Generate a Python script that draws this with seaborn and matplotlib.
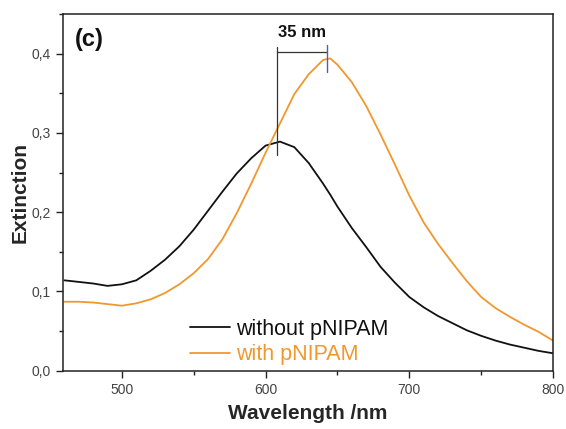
import numpy as np
import pandas as pd
import matplotlib
matplotlib.use("Agg")
import matplotlib.pyplot as plt
from matplotlib.ticker import FuncFormatter, MultipleLocator
from matplotlib.lines import Line2D
import seaborn as sns

wavelength = [460, 470, 480, 490, 500, 510, 520, 530, 540, 550, 560, 570, 580, 590,
              600, 610, 620, 630, 640, 645, 650, 660, 670, 680, 690, 700, 710, 720,
              730, 740, 750, 760, 770, 780, 790, 800]
without_pnipam = [0.114, 0.112, 0.110, 0.107, 0.109, 0.114, 0.126, 0.140, 0.157, 0.178,
                  0.202, 0.226, 0.249, 0.268, 0.284, 0.289, 0.282, 0.262, 0.236, 0.222,
                  0.207, 0.180, 0.156, 0.131, 0.111, 0.093, 0.080, 0.069, 0.060, 0.051,
                  0.044, 0.038, 0.033, 0.029, 0.025, 0.022]
with_pnipam = [0.087, 0.087, 0.086, 0.084, 0.082, 0.085, 0.090, 0.098, 0.109, 0.123,
               0.141, 0.166, 0.199, 0.236, 0.275, 0.312, 0.349, 0.374, 0.392, 0.394,
               0.386, 0.364, 0.334, 0.298, 0.260, 0.221, 0.187, 0.160, 0.136, 0.113,
               0.093, 0.079, 0.068, 0.058, 0.049, 0.038]
series_names = ["without pNIPAM", "with pNIPAM"]
peak_without = 608
peak_with = 643
shift_label = "35 nm"
panel_label = "(c)"

colors = {"without pNIPAM": "#111111", "with pNIPAM": "#F0982E"}

df = pd.concat([
    pd.DataFrame({"Wavelength": wavelength, "Extinction": without_pnipam, "Sample": series_names[0]}),
    pd.DataFrame({"Wavelength": wavelength, "Extinction": with_pnipam, "Sample": series_names[1]}),
])

sns.set_style("white")
plt.rcParams["font.family"] = ["Liberation Sans", "DejaVu Sans"]

fig = plt.figure(figsize=(5.66, 4.29), dpi=100)
ax = fig.add_axes([0.1113, 0.1359, 0.8657, 0.8315])

sns.lineplot(data=df, x="Wavelength", y="Extinction", hue="Sample", palette=colors,
             linewidth=1.3, ax=ax, legend=False)

ax.set_xlim(459, 800)
ax.set_ylim(0, 0.45)
ax.xaxis.set_major_locator(MultipleLocator(100))
ax.xaxis.set_minor_locator(MultipleLocator(50))
ax.yaxis.set_major_locator(MultipleLocator(0.1))
ax.yaxis.set_minor_locator(MultipleLocator(0.05))
ax.yaxis.set_major_formatter(FuncFormatter(lambda v, p: f"{v:.1f}".replace(".", ",")))
ax.xaxis.set_major_formatter(FuncFormatter(lambda v, p: f"{v:.0f}"))

ax.tick_params(axis="both", which="major", direction="out", length=5, width=1,
               labelsize=10, colors="#222222", labelcolor="#444444",
               bottom=True, left=True, top=False, right=False, pad=4)
ax.tick_params(axis="both", which="minor", direction="out", length=3, width=1,
               bottom=True, left=True, top=False, right=False, colors="#222222")
for s in ax.spines.values():
    s.set_visible(True)
    s.set_color("#222222")
    s.set_linewidth(1.1)

ax.set_xlabel("Wavelength /nm", fontsize=15, fontweight="bold", labelpad=5)
ax.set_ylabel("Extinction", fontsize=15, fontweight="bold", labelpad=1)

# shift bracket
ax.plot([peak_without, peak_without], [0.272, 0.408], color="#333333", lw=0.9)
ax.plot([peak_without, peak_with], [0.402, 0.402], color="#333333", lw=0.9)
ax.plot([peak_with, peak_with], [0.377, 0.411], color="#5060B0", lw=1.0)
ax.text((peak_without + peak_with) / 2, 0.417, shift_label, ha="center", va="bottom",
        fontsize=12, fontweight="bold", color="#111111")

ax.text(0.025, 0.96, panel_label, transform=ax.transAxes, ha="left", va="top",
        fontsize=17, fontweight="bold", color="#111111")

handles = [Line2D([], [], color=colors[n], lw=1.3) for n in series_names]
leg = ax.legend(handles, series_names, loc="upper left", bbox_to_anchor=(0.259, 0.145),
                frameon=False, fontsize=15.5, handlelength=1.85, handletextpad=0.3,
                labelspacing=0.2, borderpad=0, borderaxespad=0)
for t, n in zip(leg.get_texts(), series_names):
    t.set_color(colors[n])

fig.savefig("out.png", dpi=100)
